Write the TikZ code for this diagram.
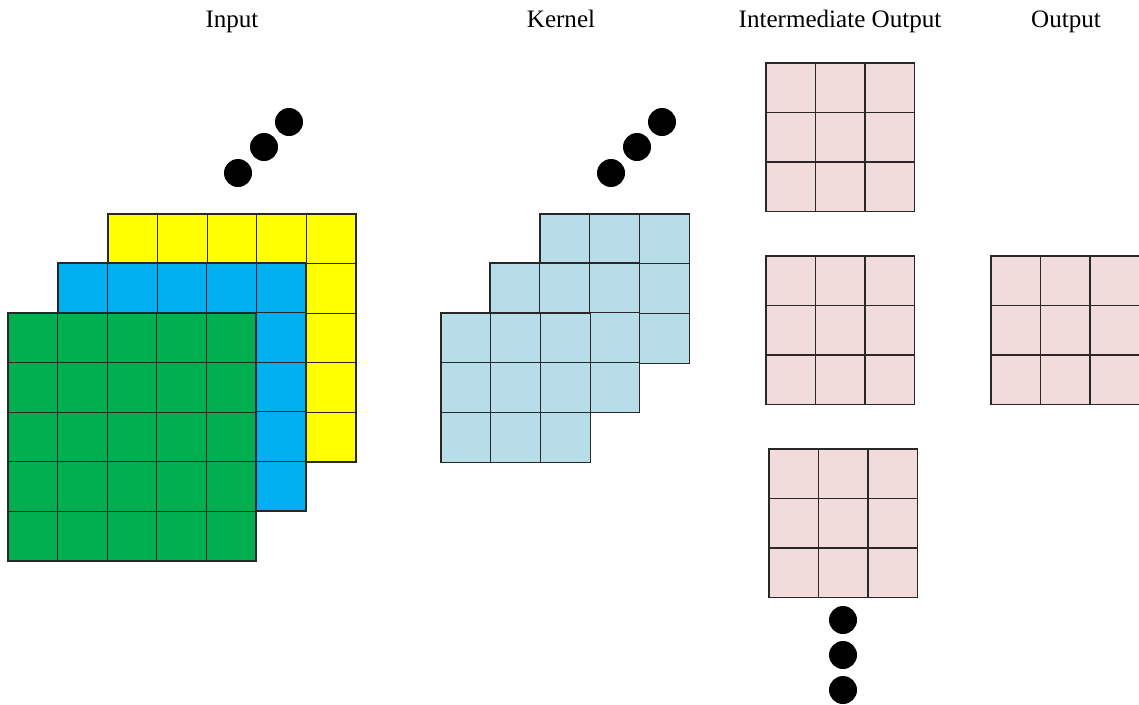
\documentclass[tikz,border=0pt]{standalone}
\usepackage{fontspec}
\setmainfont{Liberation Serif}
\definecolor{cgreen}{RGB}{0,176,80}
\definecolor{cblue}{RGB}{0,176,240}
\definecolor{cyellow}{RGB}{255,255,0}
\definecolor{clight}{RGB}{183,222,232}
\definecolor{cpink}{RGB}{242,220,219}
\definecolor{cline}{RGB}{40,40,40}
\tikzset{
  gridline/.style={cline,line width=0.9pt},
  pics/mygrid/.style n args={3}{code={
    \fill[#3] (0,0) rectangle (#1*#2,#1*#2);
    \foreach \i in {1,...,#1} {
      \draw[gridline] (\i*#2-#2,0) -- (\i*#2-#2,#1*#2);
      \draw[gridline] (0,\i*#2-#2) -- (#1*#2,\i*#2-#2);
    }
    \draw[gridline] (0,0) rectangle (#1*#2,#1*#2);
  }},
  dot/.style={circle,fill=black,inner sep=0pt,minimum size=21},
  title/.style={font=\fontsize{18.8pt}{20pt}\selectfont,anchor=base,inner sep=0pt}
}
\begin{document}
\begin{tikzpicture}[x=0.75pt,y=-0.75pt]
\useasboundingbox (0,0) rectangle (1139,704);
\clip (0,0) rectangle (1139,704);
% titles
\node[title] (tin) at (232,27) {Input};
\node[title] (tke) at (561,27) {Kernel};
\node[title] (tio) at (840,27) {Intermediate Output};
\node[title] (tou) at (1066,27) {Output};
% input
\pic at (108,214) {mygrid={5}{49.6}{cyellow}};
\pic at (58,263) {mygrid={5}{49.6}{cblue}};
\pic at (8,313) {mygrid={5}{49.6}{cgreen}};
\node[dot] (d1) at (238,173) {};
\node[dot] (d2) at (264,147) {};
\node[dot] (d3) at (289,122) {};
% kernel
\pic at (540,214) {mygrid={3}{49.7}{clight}};
\pic at (490,263) {mygrid={3}{49.7}{clight}};
\pic at (441,313) {mygrid={3}{49.7}{clight}};
\node[dot] (k1) at (611,173) {};
\node[dot] (k2) at (637,147) {};
\node[dot] (k3) at (662,122) {};
% intermediate
\pic at (766,63) {mygrid={3}{49.5}{cpink}};
\pic at (766,256) {mygrid={3}{49.5}{cpink}};
\pic at (769,449) {mygrid={3}{49.5}{cpink}};
\node[dot] (v1) at (843,620) {};
\node[dot] (v2) at (843,655) {};
\node[dot] (v3) at (843,690) {};
% output
\pic at (991,256) {mygrid={3}{49.5}{cpink}};
\end{tikzpicture}
\end{document}
